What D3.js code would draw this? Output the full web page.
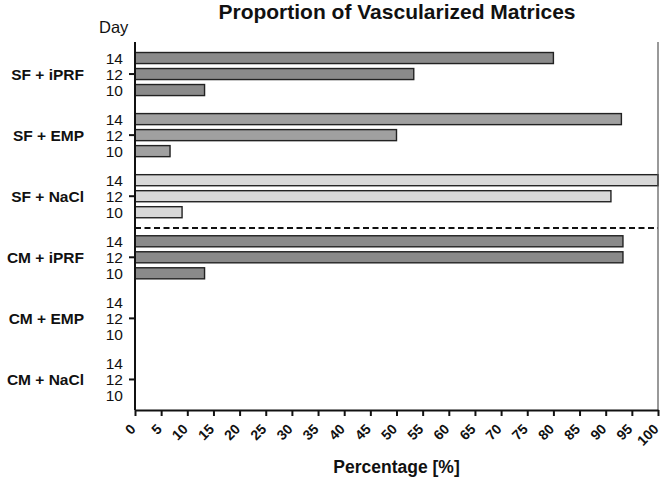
<!DOCTYPE html>
<html>
<head>
<meta charset="utf-8">
<script src="https://cdn.jsdelivr.net/npm/d3@7/dist/d3.min.js"></script>
<style>
  html, body { margin: 0; padding: 0; background: #fff; }
  svg { display: block; font-family: "Liberation Sans", Arial, sans-serif; }
</style>
</head>
<body>
<div id="chart"></div>
<script>
// ---- data ----
const groups = ["SF + iPRF", "SF + EMP", "SF + NaCl", "CM + iPRF", "CM + EMP", "CM + NaCl"];
const days = ["14", "12", "10"];
const day14 = [80, 93, 100, 93.3, 0, 0];
const day12 = [53.3, 50, 91, 93.3, 0, 0];
const day10 = [13.3, 6.7, 9, 13.3, 0, 0];
const xTicks = [0, 5, 10, 15, 20, 25, 30, 35, 40, 45, 50, 55, 60, 65, 70, 75, 80, 85, 90, 95, 100];
const chartTitle = "Proportion of Vascularized Matrices";
const xTitle = "Percentage [%]";
const yTitle = "Day";

const seriesByDay = { "14": day14, "12": day12, "10": day10 };
const rows = [];
groups.forEach((g, i) => days.forEach(d => rows.push({ group: g, day: d, value: seriesByDay[d][i] })));

// ---- layout ----
const W = 661, H = 481;
const mLeft = 135, mRight = 658, mTop = 43.5, mBottom = 410;

const svg = d3.select("#chart").append("svg").attr("width", W).attr("height", H);

const x = d3.scaleLinear().domain([0, 100]).range([mLeft, mRight]);
const y = d3.scaleBand().domain(groups).range([mTop, mBottom]).padding(0);
const yIn = d3.scaleBand().domain(days).range([0, y.bandwidth()])
  .paddingInner(0.31).paddingOuter(0.5625);

const fill = d3.scaleOrdinal().domain(groups)
  .range(["#8a8a8a", "#a0a0a0", "#d8d8d8", "#8a8a8a", "#8a8a8a", "#d8d8d8"]);

// bars
svg.append("g").selectAll("rect")
  .data(rows.filter(r => r.value > 0))
  .join("rect")
  .attr("x", x(0))
  .attr("y", d => y(d.group) + yIn(d.day))
  .attr("width", d => x(d.value) - x(0))
  .attr("height", yIn.bandwidth())
  .attr("fill", d => fill(d.group))
  .attr("stroke", "#222")
  .attr("stroke-width", 1.4);

// dashed separator between SF and CM groups
svg.append("line")
  .attr("x1", x(0)).attr("x2", x(100))
  .attr("y1", 228).attr("y2", 228)
  .attr("stroke", "#111").attr("stroke-width", 2)
  .attr("stroke-dasharray", "6,3.5");

// right frame line
svg.append("line")
  .attr("x1", x(100)).attr("x2", x(100))
  .attr("y1", 42).attr("y2", mBottom)
  .attr("stroke", "#555").attr("stroke-width", 1.2);

// x axis
const xAxis = svg.append("g")
  .attr("transform", `translate(0,${mBottom})`)
  .call(d3.axisBottom(x).tickValues(xTicks).tickSize(6).tickSizeOuter(0).tickFormat(d3.format("d")));
xAxis.select(".domain").attr("stroke", "#111").attr("stroke-width", 2);
xAxis.selectAll(".tick line").attr("stroke", "#111").attr("stroke-width", 2);
xAxis.selectAll(".tick text")
  .attr("font-family", "'Liberation Sans', Arial, sans-serif")
  .attr("font-size", 14)
  .attr("font-weight", "bold")
  .attr("fill", "#111")
  .attr("text-anchor", "end")
  .attr("dy", 0)
  .attr("y", 0)
  .attr("transform", "translate(1,20) rotate(-45)");

// y axis (group ticks at the middle bar)
const yAxis = svg.append("g")
  .attr("transform", `translate(${mLeft},0)`)
  .call(d3.axisLeft(y).tickSize(6).tickSizeOuter(0).tickFormat(""));
yAxis.select(".domain").attr("stroke", "#111").attr("stroke-width", 2)
  .attr("d", `M0,42V${mBottom}`);
yAxis.selectAll(".tick line").attr("stroke", "#111").attr("stroke-width", 2);

// day labels
svg.append("g").selectAll("text")
  .data(rows)
  .join("text")
  .attr("x", mLeft - 12)
  .attr("y", d => y(d.group) + yIn(d.day) + yIn.bandwidth() / 2)
  .attr("dy", "0.36em")
  .attr("text-anchor", "end")
  .attr("font-size", 15.5)
  .attr("fill", "#111")
  .text(d => d.day);

// group labels
svg.append("g").selectAll("text")
  .data(groups)
  .join("text")
  .attr("x", 84)
  .attr("y", d => y(d) + y.bandwidth() / 2)
  .attr("dy", "0.36em")
  .attr("text-anchor", "end")
  .attr("font-size", 15.5)
  .attr("font-weight", "bold")
  .attr("fill", "#111")
  .text(d => d);

// "Day" label
svg.append("text")
  .attr("x", 99).attr("y", 33)
  .attr("font-size", 16.5)
  .attr("fill", "#111")
  .text(yTitle);

// title
svg.append("text")
  .attr("x", 397).attr("y", 19)
  .attr("text-anchor", "middle")
  .attr("font-size", 21)
  .attr("font-weight", "bold")
  .attr("fill", "#111")
  .text(chartTitle);

// x title
svg.append("text")
  .attr("x", (mLeft + mRight) / 2).attr("y", 473)
  .attr("text-anchor", "middle")
  .attr("font-size", 17.5)
  .attr("font-weight", "bold")
  .attr("fill", "#111")
  .text(xTitle);
</script>
</body>
</html>
